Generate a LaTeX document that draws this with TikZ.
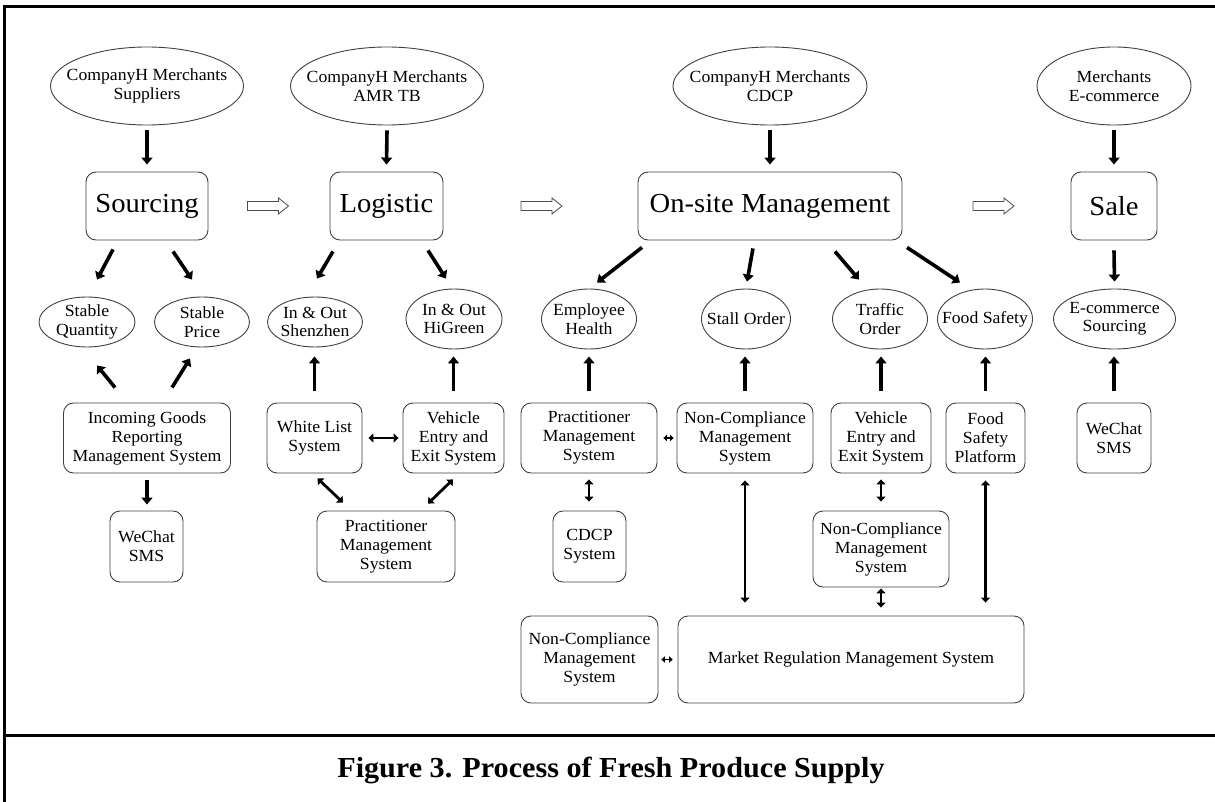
\documentclass[tikz,border=0pt]{standalone}
\usepackage{fontspec}
\setmainfont{Liberation Serif}[FakeStretch=1.04]
\usetikzlibrary{shapes.geometric,arrows.meta,calc}
\tikzset{
  hollowarrow/.pic={\draw[draw=black!70, line width=0.8pt, fill=white]
    (-20.5,-4.5) -- (10.5,-4.5) -- (10.5,-8) -- (20.5,0) -- (10.5,8) -- (10.5,4.5) -- (-20.5,4.5) -- cycle;}
}
\begin{document}
\begin{tikzpicture}[x=1pt,y=-1pt,
  every node/.style={font=\fontsize{17}{19}\selectfont},
  ell/.style={ellipse, draw=black!75, line width=0.9pt, inner sep=0pt},
  lbl/.style={align=center, inner sep=0pt, font=\fontsize{17}{18.5}\selectfont},
  box/.style={rectangle, rounded corners=10pt, draw=black!75, line width=0.9pt, inner sep=0pt, align=center},
  big/.style={box, font=\fontsize{27.5}{30}\selectfont},
  arr/.style={line width=3.6pt, -{Triangle[length=7pt,width=11pt]}},
  darr/.style={line width=2.8pt, {Triangle[length=5pt,width=9pt]}-{Triangle[length=5pt,width=9pt]}},
  sarr/.style={line width=1.6pt, {Triangle[length=3.5pt,width=6.5pt]}-{Triangle[length=3.5pt,width=6.5pt]}},
  frame/.style={line width=3pt}
]
\useasboundingbox (0,0) rectangle (1215,802);
\draw[frame] (4.5,802) -- (4.5,7) -- (1215,7);
\draw[frame] (4.5,735) -- (1215,735);

% top ellipses
\node[ell, minimum width=193pt, minimum height=78pt, label={[lbl]center:{CompanyH Merchants\\Suppliers}}] (e1) at (147,86) {};
\node[ell, minimum width=193pt, minimum height=78pt, label={[lbl]center:{CompanyH Merchants\\AMR TB}}] (e2) at (387,86) {};
\node[ell, minimum width=194pt, minimum height=78pt, label={[lbl]center:{CompanyH Merchants\\CDCP}}] (e3) at (770,86) {};
\node[ell, minimum width=154pt, minimum height=78pt, label={[lbl]center:{Merchants\\E-commerce}}] (e4) at (1114,86) {};

% main boxes
\node[big, minimum width=122pt, minimum height=68pt] (src) at (147,206) {Sourcing};
\node[big, minimum width=113pt, minimum height=68pt] (lg) at (386.5,206) {Logistic};
\node[big, minimum width=264pt, minimum height=68pt] (os) at (770,206) {On-site Management};
\node[big, minimum width=86pt, minimum height=68pt] (sl) at (1114,206) {Sale};

% hollow arrows
\coordinate (h1) at ($(src.east)!0.5!(lg.west)+(-1,0)$);
\coordinate (h2) at ($(lg.east)!0.5!(os.west)+(1,0)$);
\coordinate (h3) at ($(os.east)!0.5!(sl.west)+(7,0)$);
\pic at (h1) {hollowarrow};
\pic at (h2) {hollowarrow};
\pic at (h3) {hollowarrow};

% second-level ellipses
\node[ell, minimum width=96pt, minimum height=50pt, label={[lbl]center:{Stable\\Quantity}}] (sq) at (87,322) {};
\node[ell, minimum width=95pt, minimum height=50pt, label={[lbl]center:{Stable\\Price}}] (sp) at (202,322) {};
\node[ell, minimum width=95pt, minimum height=50pt, label={[lbl]center:{In \& Out\\Shenzhen}}] (sz) at (315,322) {};
\node[ell, minimum width=96pt, minimum height=60pt, label={[lbl]center:{In \& Out\\HiGreen}}] (hg) at (454,319) {};
\node[ell, minimum width=95pt, minimum height=60pt, label={[lbl]center:{Employee\\Health}}] (eh) at (589,319) {};
\node[ell, minimum width=89pt, minimum height=60pt, label={[lbl]center:{Stall Order}}] (so) at (746,319) {};
\node[ell, minimum width=95pt, minimum height=60pt, label={[lbl]center:{Traffic\\Order}}] (to) at (880,319) {};
\node[ell, minimum width=95pt, minimum height=60pt, label={[lbl]center:{Food Safety}}] (fs) at (985,319) {};
\node[ell, minimum width=122pt, minimum height=60pt, label={[lbl]center:{E-commerce\\Sourcing}}] (ecs) at (1114.5,319) {};

% third-level boxes
\node[box, minimum width=167pt, minimum height=70pt] (igr) at (147,438) {Incoming Goods\\Reporting\\Management System};
\node[box, minimum width=95pt, minimum height=70pt] (wl) at (314.5,438) {White List\\System};
\node[box, minimum width=101pt, minimum height=70pt] (ve) at (453.5,438) {Vehicle\\Entry and\\Exit System};
\node[box, minimum width=136pt, minimum height=70pt] (pm) at (589,438) {Practitioner\\Management\\System};
\node[box, minimum width=136pt, minimum height=70pt] (nc) at (745,438) {Non-Compliance\\Management\\System};
\node[box, minimum width=100pt, minimum height=70pt] (ve2) at (881,438) {Vehicle\\Entry and\\Exit System};
\node[box, minimum width=79pt, minimum height=70pt] (fsp) at (985.5,438) {Food\\Safety\\Platform};
\node[box, minimum width=74pt, minimum height=70pt] (ws2) at (1114,438) {WeChat\\SMS};

% fourth level
\node[box, minimum width=73pt, minimum height=71pt] (ws) at (146.5,546.5) {WeChat\\SMS};
\node[box, minimum width=138pt, minimum height=71pt] (pml) at (386,546.5) {Practitioner\\Management\\System};
\node[box, minimum width=73pt, minimum height=71pt] (cdcp) at (589.5,546.5) {CDCP\\System};
\node[box, minimum width=136pt, minimum height=76pt] (nc2) at (881,549) {Non-Compliance\\Management\\System};

% fifth level
\node[box, minimum width=137pt, minimum height=87pt] (nc3) at (589.5,659.5) {Non-Compliance\\Management\\System};
\node[box, minimum width=346pt, minimum height=87pt] (mr) at (851,659.5) {Market Regulation Management System};

% caption
\node[font=\bfseries\fontsize{29}{34}\selectfont, inner sep=0pt] (cap) at (611,770) {Figure 3. Process of Fresh Produce Supply};

% arrows top -> main
\draw[arr] ([yshift=-5pt]e1.south) -- ([yshift=7pt]src.north);
\draw[arr] ([yshift=-5pt]e2.south) -- ([yshift=7pt]lg.north);
\draw[arr] ([yshift=-5pt]e3.south) -- ([yshift=7pt]os.north);
\draw[arr] ([yshift=-5pt]e4.south) -- ([yshift=7pt]sl.north);

% main -> second level
\draw[arr] ($(src.south)+(-34,9)$) -- ($(sq.north)+(10,-17)$);
\draw[arr] ($(src.south)+(26,11)$) -- ($(sp.north)+(-10,-17)$);
\draw[arr] ($(lg.south)+(-53.5,11)$) -- ($(sz.north)+(2,-18)$);
\draw[arr] ($(lg.south)+(41.5,10)$) -- ($(hg.north)+(-8,-10)$);
\draw[arr] ($(os.south)+(-128,7)$) -- ($(eh.north)+(8,-6)$);
\draw[arr] ($(os.south)+(-17,8)$) -- ($(so.north)+(1,-7)$);
\draw[arr] ($(os.south)+(65,11)$) -- ($(to.north)+(-21,-9)$);
\draw[arr] ($(os.south)+(137,7)$) -- ($(fs.north)+(-25,-6)$);
\draw[arr] ([yshift=-10pt]sl.south) -- ([yshift=7pt]ecs.north);

% third level -> second level
\draw[arr] ($(igr.north)+(-32,-15)$) -- ($(sq.south)+(10,18)$);
\draw[arr] ($(igr.north)+(25,-15)$) -- ($(sp.south)+(-12,11)$);
\draw[arr, shorten <=12pt, shorten >=9pt] (wl.north) -- (wl.north |- sz.south);
\draw[arr, shorten <=12pt, shorten >=7pt] (ve.north) -- (ve.north |- hg.south);
\draw[arr, shorten <=12pt, shorten >=7pt] (pm.north) -- (pm.north |- eh.south);
\draw[arr, shorten <=12pt, shorten >=7pt] (nc.north) -- (nc.north |- so.south);
\draw[arr, shorten <=12pt, shorten >=7pt] (ve2.north) -- (ve2.north |- to.south);
\draw[arr, shorten <=12pt, shorten >=7pt] (fsp.north) -- (fsp.north |- fs.south);
\draw[arr, shorten <=12pt, shorten >=7pt] (ws2.north) -- (ws2.north |- ecs.south);

% horizontal links
\draw[darr, shorten <=6pt, shorten >=4pt] (wl.east) -- (ve.west);
\draw[sarr, shorten <=6pt, shorten >=3pt] (pm.east) -- (nc.west);
\draw[sarr, shorten <=3pt, shorten >=5pt] (nc3.east) -- (mr.west);

% lower links
\draw[arr, shorten <=7pt, shorten >=6pt] (igr.south) -- (igr.south |- ws.north);
\draw[darr] ($(wl.south)+(3,5)$) -- ($(pml.north)+(-43,-8)$);
\draw[darr] ($(ve.south)+(-0.5,6)$) -- ($(pml.north)+(42,-7)$);
\draw[darr, shorten <=6pt, shorten >=9pt] (pm.south) -- (pm.south |- cdcp.north);
\draw[darr, shorten <=6pt, shorten >=9pt] (ve2.south) -- (ve2.south |- nc2.north);
\draw[darr, shorten <=1pt, shorten >=8pt] (nc2.south) -- (nc2.south |- mr.north);
\draw[darr, shorten <=7pt, shorten >=13pt] (nc.south) -- (nc.south |- mr.north);
\draw[darr, shorten <=7pt, shorten >=13pt] (fsp.south) -- (fsp.south |- mr.north);
\end{tikzpicture}
\end{document}
